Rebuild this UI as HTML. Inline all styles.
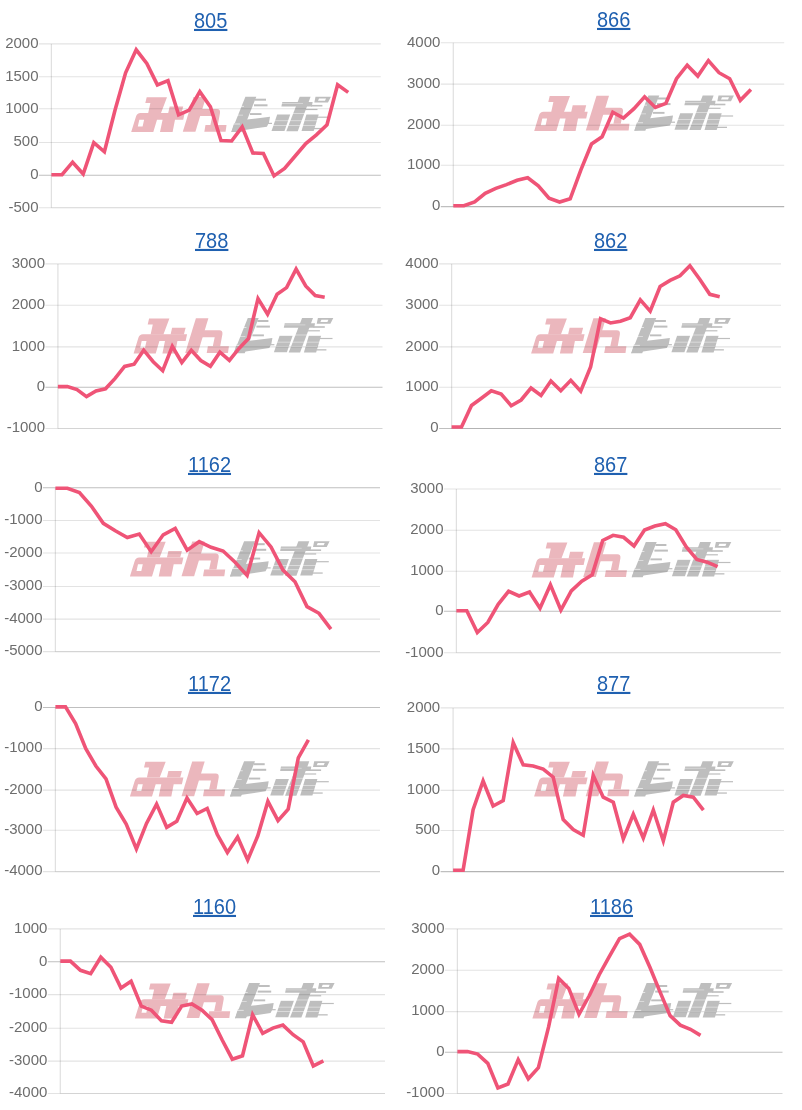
<!DOCTYPE html>
<html><head><meta charset="utf-8"><style>
html,body{margin:0;padding:0;background:#fff;width:802px;height:1110px;overflow:hidden;position:relative}
svg.c{position:absolute;will-change:transform;left:0;top:0;font-family:"Liberation Sans",sans-serif;font-size:15px;fill:#6d6d6d}
a{position:absolute;will-change:transform;transform:scaleY(1.06);transform-origin:0 4px;font-family:"Liberation Sans",sans-serif;font-size:20px;line-height:23px;color:#1f60b0;text-decoration:underline;text-decoration-thickness:1.5px;text-underline-offset:0.9px;white-space:nowrap}
</style></head><body>
<svg class="c" width="802" height="1110" viewBox="0 0 802 1110">
<defs><g id="logo">
<g fill="#ebb7bd">
<polygon points="15.7,0.7 36,0.7 30,16.6 17.2,16.6 19.4,6.6 14.3,6.6"/>
<polygon points="38.7,9.9 52.2,9.9 50.5,16.6 37.2,16.6"/>
<path d="M9.5,16.4 L53.7,16.4 L52.2,23.2 L44,23.2 L41.6,35.6 L29,35.6 L31.6,23.2 L26,23.2 L22.3,35.6 L0.2,35.6 L5,20 Q6,16.4 9.5,16.4 Z M8.3,23.3 L6.8,30 L11.6,30 L13.1,23.3 Z" fill-rule="evenodd"/>
<polygon points="62.5,0.5 75,0.5 64.4,35.3 51.8,35.3"/>
<path d="M70.5,12.4 L86,12.4 Q89.5,12.4 89,16.5 L86.8,28.5 L79.4,28.5 L81.3,19.5 L68.5,19.5 Z"/>
<polygon points="74.5,28.4 95.5,28.4 94.6,35.3 73.3,35.3"/>
</g>
<g fill="#bebebe">
<polygon points="114.4,0.3 125.3,0.3 111.3,35.5 100.3,35.5"/>
<rect x="124" y="2.2" width="11" height="2.0"/>
<rect x="123" y="7.8" width="13.5" height="2.0"/>
<rect x="119" y="16.6" width="11.5" height="1.9"/>
<polygon points="116,23 139,20.2 138,26 135.9,30.2 100.3,35.5 103,27"/>
<rect x="136" y="26.3" width="5" height="1.2"/>
<polygon points="151.3,5.5 181.6,5.5 180.8,10 150.4,10"/>
<rect x="180" y="8.4" width="11.4" height="1.6"/>
<polygon points="168.7,0.3 179.6,0.3 166.7,34.7 155.3,34.7"/>
<polygon points="146.2,17.9 159.2,17.9 153.5,34.5 140.5,34.5"/>
<polygon points="175.4,17.9 187.7,17.9 182.7,34.6 170.5,34.6"/>
<rect x="181.2" y="20.1" width="17.9" height="1.2"/>
<rect x="183" y="31.4" width="10" height="1.3"/>
<path d="M184.5,0.3 L199.9,0.3 L197,5.9 L183.3,5.9 Z M188,2 L187,4.2 L194,4.2 L195,2 Z" fill-rule="evenodd"/>
<rect x="174" y="12.4" width="12.5" height="1.2"/>
</g>
<g fill="#fff" fill-opacity="0.75">
<rect x="100" y="9.4" width="13" height="0.8"/>
<rect x="100" y="18.3" width="12" height="0.6"/>
<rect x="100" y="27.1" width="9" height="0.8"/>
<rect x="140" y="24.0" width="48" height="0.6"/>
<rect x="138" y="28.5" width="46" height="0.6"/>
<rect x="150" y="6.9" width="22" height="0.5"/>
<rect x="146" y="16.9" width="42" height="0.6"/>
</g>
</g>
</defs>
<use href="#logo" x="131" y="96.5"/>
<line x1="38.9" y1="43.9" x2="380.8" y2="43.9" stroke="rgba(0,0,0,0.11)" stroke-width="1.1"/>
<text x="38.5" y="47.8" text-anchor="end" transform="translate(0 47.8) scale(1 1.03) translate(0 -47.8)">2000</text>
<line x1="38.9" y1="76.7" x2="380.8" y2="76.7" stroke="rgba(0,0,0,0.11)" stroke-width="1.1"/>
<text x="38.5" y="80.6" text-anchor="end" transform="translate(0 80.6) scale(1 1.03) translate(0 -80.6)">1500</text>
<line x1="38.9" y1="108.8" x2="380.8" y2="108.8" stroke="rgba(0,0,0,0.11)" stroke-width="1.1"/>
<text x="38.5" y="112.7" text-anchor="end" transform="translate(0 112.7) scale(1 1.03) translate(0 -112.7)">1000</text>
<line x1="38.9" y1="142.5" x2="380.8" y2="142.5" stroke="rgba(0,0,0,0.11)" stroke-width="1.1"/>
<text x="38.5" y="146.4" text-anchor="end" transform="translate(0 146.4) scale(1 1.03) translate(0 -146.4)">500</text>
<line x1="38.9" y1="175.3" x2="380.8" y2="175.3" stroke="rgba(0,0,0,0.25)" stroke-width="1.1"/>
<text x="38.5" y="179.2" text-anchor="end" transform="translate(0 179.2) scale(1 1.03) translate(0 -179.2)">0</text>
<line x1="38.9" y1="207.7" x2="380.8" y2="207.7" stroke="rgba(0,0,0,0.11)" stroke-width="1.1"/>
<text x="38.5" y="211.6" text-anchor="end" transform="translate(0 211.6) scale(1 1.03) translate(0 -211.6)">-500</text>
<line x1="51.4" y1="207.7" x2="380.8" y2="207.7" stroke="rgba(0,0,0,0.11)" stroke-width="1.1" stroke-opacity="0.6"/>
<line x1="51.4" y1="43.9" x2="51.4" y2="207.7" stroke="rgba(0,0,0,0.12)" stroke-width="1.25"/>
<polyline points="51.4,174.7 62,174.7 72.6,162.2 83.2,174 93.8,142.7 104.4,151.8 115,110.3 125.6,72.8 136.2,49.8 146.8,63.5 157.4,84.9 168,80.7 178.6,114.8 189.2,110.2 199.8,91.7 210.4,106.8 221,140.6 231.6,141 242.2,126.8 252.8,153 263.4,153.5 274,175.9 284.6,168.4 295.2,156 305.8,143.5 316.4,134.8 327,124.8 337.6,84.7 348.2,92.4" fill="none" stroke="#ef5477" stroke-width="3.6" stroke-linejoin="miter" stroke-miterlimit="10"/>
<use href="#logo" x="534" y="95.3"/>
<line x1="440.8" y1="42.8" x2="784.2" y2="42.8" stroke="rgba(0,0,0,0.11)" stroke-width="1.1"/>
<text x="440.4" y="46.7" text-anchor="end" transform="translate(0 46.7) scale(1 1.03) translate(0 -46.7)">4000</text>
<line x1="440.8" y1="84.1" x2="784.2" y2="84.1" stroke="rgba(0,0,0,0.11)" stroke-width="1.1"/>
<text x="440.4" y="88" text-anchor="end" transform="translate(0 88) scale(1 1.03) translate(0 -88)">3000</text>
<line x1="440.8" y1="125.3" x2="784.2" y2="125.3" stroke="rgba(0,0,0,0.11)" stroke-width="1.1"/>
<text x="440.4" y="129.2" text-anchor="end" transform="translate(0 129.2) scale(1 1.03) translate(0 -129.2)">2000</text>
<line x1="440.8" y1="165.2" x2="784.2" y2="165.2" stroke="rgba(0,0,0,0.11)" stroke-width="1.1"/>
<text x="440.4" y="169.1" text-anchor="end" transform="translate(0 169.1) scale(1 1.03) translate(0 -169.1)">1000</text>
<line x1="440.8" y1="206.6" x2="784.2" y2="206.6" stroke="rgba(0,0,0,0.25)" stroke-width="1.1"/>
<text x="440.4" y="210.5" text-anchor="end" transform="translate(0 210.5) scale(1 1.03) translate(0 -210.5)">0</text>
<line x1="453.3" y1="206.6" x2="784.2" y2="206.6" stroke="rgba(0,0,0,0.11)" stroke-width="1.1" stroke-opacity="0.6"/>
<line x1="453.3" y1="42.8" x2="453.3" y2="206.6" stroke="rgba(0,0,0,0.12)" stroke-width="1.25"/>
<polyline points="453.3,205.8 463.9,205.8 474.6,202 485.2,193.3 495.8,188.4 506.5,184.6 517.1,180.3 527.7,177.8 538.3,185.9 549,198.3 559.6,202 570.2,198.8 580.9,169.9 591.5,144 602.1,136.8 612.8,112.2 623.4,118 634,108.6 644.6,96.8 655.3,107.5 665.9,103.3 676.5,78.7 687.2,65.2 697.8,76.1 708.4,60.6 719,72.7 729.7,78.7 740.3,100.3 750.9,89.4" fill="none" stroke="#ef5477" stroke-width="3.6" stroke-linejoin="miter" stroke-miterlimit="10"/>
<use href="#logo" x="133.4" y="317.8"/>
<line x1="45.4" y1="263.9" x2="382.5" y2="263.9" stroke="rgba(0,0,0,0.11)" stroke-width="1.1"/>
<text x="45" y="267.8" text-anchor="end" transform="translate(0 267.8) scale(1 1.03) translate(0 -267.8)">3000</text>
<line x1="45.4" y1="305.3" x2="382.5" y2="305.3" stroke="rgba(0,0,0,0.11)" stroke-width="1.1"/>
<text x="45" y="309.2" text-anchor="end" transform="translate(0 309.2) scale(1 1.03) translate(0 -309.2)">2000</text>
<line x1="45.4" y1="346.9" x2="382.5" y2="346.9" stroke="rgba(0,0,0,0.11)" stroke-width="1.1"/>
<text x="45" y="350.8" text-anchor="end" transform="translate(0 350.8) scale(1 1.03) translate(0 -350.8)">1000</text>
<line x1="45.4" y1="387.2" x2="382.5" y2="387.2" stroke="rgba(0,0,0,0.25)" stroke-width="1.1"/>
<text x="45" y="391.1" text-anchor="end" transform="translate(0 391.1) scale(1 1.03) translate(0 -391.1)">0</text>
<line x1="45.4" y1="428.5" x2="382.5" y2="428.5" stroke="rgba(0,0,0,0.11)" stroke-width="1.1"/>
<text x="45" y="432.4" text-anchor="end" transform="translate(0 432.4) scale(1 1.03) translate(0 -432.4)">-1000</text>
<line x1="57.9" y1="428.5" x2="382.5" y2="428.5" stroke="rgba(0,0,0,0.11)" stroke-width="1.1" stroke-opacity="0.6"/>
<line x1="57.9" y1="263.9" x2="57.9" y2="428.5" stroke="rgba(0,0,0,0.12)" stroke-width="1.25"/>
<polyline points="57.9,386.6 67.4,386.6 77,389.6 86.5,396.6 96,390.9 105.5,388.8 115.1,378.4 124.6,366.4 134.1,364.2 143.7,350.2 153.2,361.7 162.7,370.7 172.3,346.4 181.8,362.5 191.3,350.3 200.8,360.5 210.4,366.3 219.9,352.2 229.4,360.4 239,348.4 248.5,338.5 258,298.6 267.6,314.3 277.1,294.3 286.6,287.6 296.1,269.1 305.7,286 315.2,295.6 324.7,297.3" fill="none" stroke="#ef5477" stroke-width="3.6" stroke-linejoin="miter" stroke-miterlimit="10"/>
<use href="#logo" x="530.9" y="317.8"/>
<line x1="439.1" y1="263.9" x2="781" y2="263.9" stroke="rgba(0,0,0,0.11)" stroke-width="1.1"/>
<text x="438.7" y="267.8" text-anchor="end" transform="translate(0 267.8) scale(1 1.03) translate(0 -267.8)">4000</text>
<line x1="439.1" y1="305.3" x2="781" y2="305.3" stroke="rgba(0,0,0,0.11)" stroke-width="1.1"/>
<text x="438.7" y="309.2" text-anchor="end" transform="translate(0 309.2) scale(1 1.03) translate(0 -309.2)">3000</text>
<line x1="439.1" y1="346.9" x2="781" y2="346.9" stroke="rgba(0,0,0,0.11)" stroke-width="1.1"/>
<text x="438.7" y="350.8" text-anchor="end" transform="translate(0 350.8) scale(1 1.03) translate(0 -350.8)">2000</text>
<line x1="439.1" y1="387.2" x2="781" y2="387.2" stroke="rgba(0,0,0,0.11)" stroke-width="1.1"/>
<text x="438.7" y="391.1" text-anchor="end" transform="translate(0 391.1) scale(1 1.03) translate(0 -391.1)">1000</text>
<line x1="439.1" y1="428.5" x2="781" y2="428.5" stroke="rgba(0,0,0,0.25)" stroke-width="1.1"/>
<text x="438.7" y="432.4" text-anchor="end" transform="translate(0 432.4) scale(1 1.03) translate(0 -432.4)">0</text>
<line x1="451.6" y1="428.5" x2="781" y2="428.5" stroke="rgba(0,0,0,0.11)" stroke-width="1.1" stroke-opacity="0.6"/>
<line x1="451.6" y1="263.9" x2="451.6" y2="428.5" stroke="rgba(0,0,0,0.12)" stroke-width="1.25"/>
<polyline points="451.6,427 461.5,427 471.5,405.5 481.4,398.3 491.3,390.8 501.2,394.1 511.2,405.7 521.1,400 531,388 541,395.4 550.9,381 560.8,390.7 570.8,380.3 580.7,391.2 590.6,367 600.5,318.8 610.5,323 620.4,321.2 630.3,317.7 640.3,299.9 650.2,311.1 660.1,286.5 670.1,280.4 680,275.8 689.9,265.7 699.9,279.5 709.8,294.3 719.7,296.7" fill="none" stroke="#ef5477" stroke-width="3.6" stroke-linejoin="miter" stroke-miterlimit="10"/>
<use href="#logo" x="129.7" y="541"/>
<line x1="42.9" y1="487.8" x2="380" y2="487.8" stroke="rgba(0,0,0,0.25)" stroke-width="1.1"/>
<text x="42.5" y="491.7" text-anchor="end" transform="translate(0 491.7) scale(1 1.03) translate(0 -491.7)">0</text>
<line x1="42.9" y1="520.5" x2="380" y2="520.5" stroke="rgba(0,0,0,0.11)" stroke-width="1.1"/>
<text x="42.5" y="524.4" text-anchor="end" transform="translate(0 524.4) scale(1 1.03) translate(0 -524.4)">-1000</text>
<line x1="42.9" y1="553" x2="380" y2="553" stroke="rgba(0,0,0,0.11)" stroke-width="1.1"/>
<text x="42.5" y="556.9" text-anchor="end" transform="translate(0 556.9) scale(1 1.03) translate(0 -556.9)">-2000</text>
<line x1="42.9" y1="586.5" x2="380" y2="586.5" stroke="rgba(0,0,0,0.11)" stroke-width="1.1"/>
<text x="42.5" y="590.4" text-anchor="end" transform="translate(0 590.4) scale(1 1.03) translate(0 -590.4)">-3000</text>
<line x1="42.9" y1="619.1" x2="380" y2="619.1" stroke="rgba(0,0,0,0.11)" stroke-width="1.1"/>
<text x="42.5" y="623" text-anchor="end" transform="translate(0 623) scale(1 1.03) translate(0 -623)">-4000</text>
<line x1="42.9" y1="651.6" x2="380" y2="651.6" stroke="rgba(0,0,0,0.11)" stroke-width="1.1"/>
<text x="42.5" y="655.5" text-anchor="end" transform="translate(0 655.5) scale(1 1.03) translate(0 -655.5)">-5000</text>
<line x1="55.4" y1="651.6" x2="380" y2="651.6" stroke="rgba(0,0,0,0.11)" stroke-width="1.1" stroke-opacity="0.6"/>
<line x1="55.4" y1="487.8" x2="55.4" y2="651.6" stroke="rgba(0,0,0,0.12)" stroke-width="1.25"/>
<polyline points="55.4,488.2 67.4,488.2 79.4,492.5 91.3,506 103.3,523.3 115.3,530.8 127.3,537.5 139.3,534 151.2,551.7 163.2,534.8 175.2,528.4 187.2,550.2 199.2,541.7 211.1,547.3 223.1,551 235.1,562.2 247.1,575.4 259.1,532.7 271,546.9 283,570.1 295,581.8 307,606.6 319,613.3 330.9,629.2" fill="none" stroke="#ef5477" stroke-width="3.6" stroke-linejoin="miter" stroke-miterlimit="10"/>
<use href="#logo" x="531.4" y="541.8"/>
<line x1="443.9" y1="489" x2="780.8" y2="489" stroke="rgba(0,0,0,0.11)" stroke-width="1.1"/>
<text x="443.5" y="492.9" text-anchor="end" transform="translate(0 492.9) scale(1 1.03) translate(0 -492.9)">3000</text>
<line x1="443.9" y1="530.3" x2="780.8" y2="530.3" stroke="rgba(0,0,0,0.11)" stroke-width="1.1"/>
<text x="443.5" y="534.2" text-anchor="end" transform="translate(0 534.2) scale(1 1.03) translate(0 -534.2)">2000</text>
<line x1="443.9" y1="571.3" x2="780.8" y2="571.3" stroke="rgba(0,0,0,0.11)" stroke-width="1.1"/>
<text x="443.5" y="575.2" text-anchor="end" transform="translate(0 575.2) scale(1 1.03) translate(0 -575.2)">1000</text>
<line x1="443.9" y1="611.3" x2="780.8" y2="611.3" stroke="rgba(0,0,0,0.25)" stroke-width="1.1"/>
<text x="443.5" y="615.2" text-anchor="end" transform="translate(0 615.2) scale(1 1.03) translate(0 -615.2)">0</text>
<line x1="443.9" y1="652.7" x2="780.8" y2="652.7" stroke="rgba(0,0,0,0.11)" stroke-width="1.1"/>
<text x="443.5" y="656.6" text-anchor="end" transform="translate(0 656.6) scale(1 1.03) translate(0 -656.6)">-1000</text>
<line x1="456.4" y1="652.7" x2="780.8" y2="652.7" stroke="rgba(0,0,0,0.11)" stroke-width="1.1" stroke-opacity="0.6"/>
<line x1="456.4" y1="489" x2="456.4" y2="652.7" stroke="rgba(0,0,0,0.12)" stroke-width="1.25"/>
<polyline points="456.4,610.8 466.8,610.8 477.3,632.6 487.8,622.5 498.2,604.3 508.6,591.3 519.1,596 529.5,592 540,608.2 550.4,584.8 560.9,610 571.3,590.9 581.8,581.1 592.2,574.7 602.7,540.5 613.1,535.3 623.6,537.3 634,546 644.5,530 654.9,526.1 665.4,523.7 675.8,529.8 686.3,546.9 696.8,559.4 707.2,562.2 717.6,566.7" fill="none" stroke="#ef5477" stroke-width="3.6" stroke-linejoin="miter" stroke-miterlimit="10"/>
<use href="#logo" x="129.7" y="761"/>
<line x1="42.9" y1="707.5" x2="380" y2="707.5" stroke="rgba(0,0,0,0.25)" stroke-width="1.1"/>
<text x="42.5" y="711.4" text-anchor="end" transform="translate(0 711.4) scale(1 1.03) translate(0 -711.4)">0</text>
<line x1="42.9" y1="748.6" x2="380" y2="748.6" stroke="rgba(0,0,0,0.11)" stroke-width="1.1"/>
<text x="42.5" y="752.5" text-anchor="end" transform="translate(0 752.5) scale(1 1.03) translate(0 -752.5)">-1000</text>
<line x1="42.9" y1="790.1" x2="380" y2="790.1" stroke="rgba(0,0,0,0.11)" stroke-width="1.1"/>
<text x="42.5" y="794" text-anchor="end" transform="translate(0 794) scale(1 1.03) translate(0 -794)">-2000</text>
<line x1="42.9" y1="830.3" x2="380" y2="830.3" stroke="rgba(0,0,0,0.11)" stroke-width="1.1"/>
<text x="42.5" y="834.2" text-anchor="end" transform="translate(0 834.2) scale(1 1.03) translate(0 -834.2)">-3000</text>
<line x1="42.9" y1="871.6" x2="380" y2="871.6" stroke="rgba(0,0,0,0.11)" stroke-width="1.1"/>
<text x="42.5" y="875.5" text-anchor="end" transform="translate(0 875.5) scale(1 1.03) translate(0 -875.5)">-4000</text>
<line x1="55.4" y1="871.6" x2="380" y2="871.6" stroke="rgba(0,0,0,0.11)" stroke-width="1.1" stroke-opacity="0.6"/>
<line x1="55.4" y1="707.5" x2="55.4" y2="871.6" stroke="rgba(0,0,0,0.12)" stroke-width="1.25"/>
<polyline points="55.4,706.9 65.5,706.9 75.6,723.6 85.8,748.6 95.9,766 106,779 116.1,807.2 126.2,824.1 136.4,848.9 146.5,823.4 156.6,804.1 166.7,827.3 176.8,821.3 187,798.1 197.1,813.5 207.2,808.5 217.3,834.6 227.4,852.5 237.6,837.1 247.7,860 257.8,835.8 267.9,801.4 278,820.7 288.2,809.1 298.3,757.8 308.4,739.8" fill="none" stroke="#ef5477" stroke-width="3.6" stroke-linejoin="miter" stroke-miterlimit="10"/>
<use href="#logo" x="533.9" y="761"/>
<line x1="440.6" y1="707.9" x2="784" y2="707.9" stroke="rgba(0,0,0,0.11)" stroke-width="1.1"/>
<text x="440.2" y="711.8" text-anchor="end" transform="translate(0 711.8) scale(1 1.03) translate(0 -711.8)">2000</text>
<line x1="440.6" y1="748.9" x2="784" y2="748.9" stroke="rgba(0,0,0,0.11)" stroke-width="1.1"/>
<text x="440.2" y="752.8" text-anchor="end" transform="translate(0 752.8) scale(1 1.03) translate(0 -752.8)">1500</text>
<line x1="440.6" y1="790.4" x2="784" y2="790.4" stroke="rgba(0,0,0,0.11)" stroke-width="1.1"/>
<text x="440.2" y="794.3" text-anchor="end" transform="translate(0 794.3) scale(1 1.03) translate(0 -794.3)">1000</text>
<line x1="440.6" y1="830.5" x2="784" y2="830.5" stroke="rgba(0,0,0,0.11)" stroke-width="1.1"/>
<text x="440.2" y="834.4" text-anchor="end" transform="translate(0 834.4) scale(1 1.03) translate(0 -834.4)">500</text>
<line x1="440.6" y1="871.6" x2="784" y2="871.6" stroke="rgba(0,0,0,0.25)" stroke-width="1.1"/>
<text x="440.2" y="875.5" text-anchor="end" transform="translate(0 875.5) scale(1 1.03) translate(0 -875.5)">0</text>
<line x1="453.1" y1="871.6" x2="784" y2="871.6" stroke="rgba(0,0,0,0.11)" stroke-width="1.1" stroke-opacity="0.6"/>
<line x1="453.1" y1="707.9" x2="453.1" y2="871.6" stroke="rgba(0,0,0,0.12)" stroke-width="1.25"/>
<polyline points="453.1,870.2 463.1,870.2 473.1,809.7 483.1,781 493.1,806 503.2,800.6 513.2,742.7 523.2,764.9 533.2,766 543.2,769.1 553.2,777.2 563.2,819.6 573.2,829.6 583.2,835.2 593.2,775.3 603.2,797.2 613.3,802.2 623.3,838.9 633.3,814.3 643.3,838 653.3,810 663.3,840.8 673.3,802.2 683.3,795.5 693.3,797.2 703.4,810.1" fill="none" stroke="#ef5477" stroke-width="3.6" stroke-linejoin="miter" stroke-miterlimit="10"/>
<use href="#logo" x="134.7" y="982.8"/>
<line x1="47.8" y1="928.9" x2="385" y2="928.9" stroke="rgba(0,0,0,0.11)" stroke-width="1.1"/>
<text x="47.4" y="932.8" text-anchor="end" transform="translate(0 932.8) scale(1 1.03) translate(0 -932.8)">1000</text>
<line x1="47.8" y1="961.8" x2="385" y2="961.8" stroke="rgba(0,0,0,0.25)" stroke-width="1.1"/>
<text x="47.4" y="965.7" text-anchor="end" transform="translate(0 965.7) scale(1 1.03) translate(0 -965.7)">0</text>
<line x1="47.8" y1="994.6" x2="385" y2="994.6" stroke="rgba(0,0,0,0.11)" stroke-width="1.1"/>
<text x="47.4" y="998.5" text-anchor="end" transform="translate(0 998.5) scale(1 1.03) translate(0 -998.5)">-1000</text>
<line x1="47.8" y1="1028.2" x2="385" y2="1028.2" stroke="rgba(0,0,0,0.11)" stroke-width="1.1"/>
<text x="47.4" y="1032.1" text-anchor="end" transform="translate(0 1032.1) scale(1 1.03) translate(0 -1032.1)">-2000</text>
<line x1="47.8" y1="1061.1" x2="385" y2="1061.1" stroke="rgba(0,0,0,0.11)" stroke-width="1.1"/>
<text x="47.4" y="1065" text-anchor="end" transform="translate(0 1065) scale(1 1.03) translate(0 -1065)">-3000</text>
<line x1="47.8" y1="1093.5" x2="385" y2="1093.5" stroke="rgba(0,0,0,0.11)" stroke-width="1.1"/>
<text x="47.4" y="1097.4" text-anchor="end" transform="translate(0 1097.4) scale(1 1.03) translate(0 -1097.4)">-4000</text>
<line x1="60.3" y1="1093.5" x2="385" y2="1093.5" stroke="rgba(0,0,0,0.11)" stroke-width="1.1" stroke-opacity="0.6"/>
<line x1="60.3" y1="928.9" x2="60.3" y2="1093.5" stroke="rgba(0,0,0,0.12)" stroke-width="1.25"/>
<polyline points="60.3,961.1 70.4,961.1 80.5,970.3 90.7,973.7 100.8,957.2 110.9,967.3 121,988 131.1,981.2 141.3,1006.2 151.4,1010.2 161.5,1020.9 171.6,1022.3 181.7,1006 191.9,1003.9 202,1010.2 212.1,1019.7 222.2,1040 232.3,1059.2 242.5,1055.8 252.6,1014.8 262.7,1033.3 272.8,1028.1 282.9,1025.1 293.1,1034.7 303.2,1041.8 313.3,1065.9 323.4,1060.8" fill="none" stroke="#ef5477" stroke-width="3.6" stroke-linejoin="miter" stroke-miterlimit="10"/>
<use href="#logo" x="532.2" y="982.8"/>
<line x1="444.9" y1="928.9" x2="782.5" y2="928.9" stroke="rgba(0,0,0,0.11)" stroke-width="1.1"/>
<text x="444.5" y="932.8" text-anchor="end" transform="translate(0 932.8) scale(1 1.03) translate(0 -932.8)">3000</text>
<line x1="444.9" y1="970.3" x2="782.5" y2="970.3" stroke="rgba(0,0,0,0.11)" stroke-width="1.1"/>
<text x="444.5" y="974.2" text-anchor="end" transform="translate(0 974.2) scale(1 1.03) translate(0 -974.2)">2000</text>
<line x1="444.9" y1="1011.6" x2="782.5" y2="1011.6" stroke="rgba(0,0,0,0.11)" stroke-width="1.1"/>
<text x="444.5" y="1015.5" text-anchor="end" transform="translate(0 1015.5) scale(1 1.03) translate(0 -1015.5)">1000</text>
<line x1="444.9" y1="1052.2" x2="782.5" y2="1052.2" stroke="rgba(0,0,0,0.25)" stroke-width="1.1"/>
<text x="444.5" y="1056.1" text-anchor="end" transform="translate(0 1056.1) scale(1 1.03) translate(0 -1056.1)">0</text>
<line x1="444.9" y1="1093.5" x2="782.5" y2="1093.5" stroke="rgba(0,0,0,0.11)" stroke-width="1.1"/>
<text x="444.5" y="1097.4" text-anchor="end" transform="translate(0 1097.4) scale(1 1.03) translate(0 -1097.4)">-1000</text>
<line x1="457.4" y1="1093.5" x2="782.5" y2="1093.5" stroke="rgba(0,0,0,0.11)" stroke-width="1.1" stroke-opacity="0.6"/>
<line x1="457.4" y1="928.9" x2="457.4" y2="1093.5" stroke="rgba(0,0,0,0.12)" stroke-width="1.25"/>
<polyline points="457.4,1051.6 467.5,1051.6 477.7,1054.1 487.8,1063.3 497.9,1087.9 508,1084 518.2,1059.6 528.3,1078.8 538.4,1067.7 548.6,1026.9 558.7,978.4 568.8,988.4 579,1014.3 589.1,996 599.2,974.7 609.4,956.4 619.5,938.6 629.6,934.2 639.7,944.4 649.9,967.3 660,991.9 670.1,1015.6 680.3,1025.1 690.4,1029.3 700.5,1035.4" fill="none" stroke="#ef5477" stroke-width="3.6" stroke-linejoin="miter" stroke-miterlimit="10"/>
</svg>
<a href="#" style="left:193.5px;top:9.0px">805</a><a href="#" style="left:596.5px;top:7.9px">866</a><a href="#" style="left:195.3px;top:229.1px">788</a><a href="#" style="left:593.7px;top:229.1px">862</a><a href="#" style="left:187.7px;top:453.4px">1162</a><a href="#" style="left:593.7px;top:453.4px">867</a><a href="#" style="left:187.7px;top:672.1px">1172</a><a href="#" style="left:596.5px;top:672.1px">877</a><a href="#" style="left:192.9px;top:894.6px">1160</a><a href="#" style="left:590.4px;top:894.6px">1186</a>
</body></html>
